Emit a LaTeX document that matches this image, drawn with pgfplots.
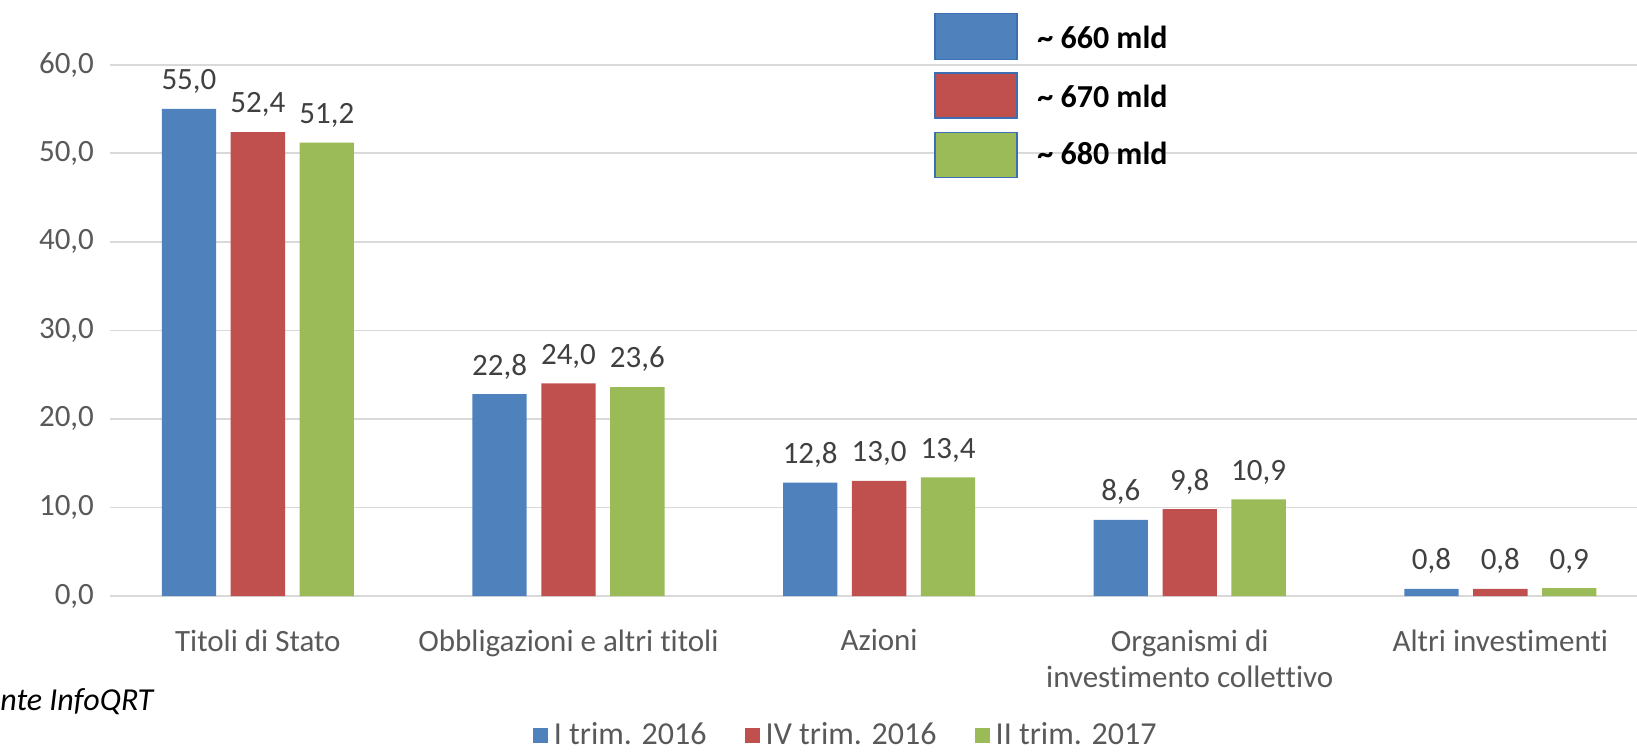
\documentclass[border=0pt]{standalone}
\usepackage{fontspec}
\setmainfont{Carlito}[Ligatures=CommonOff]
\usepackage{pgfplots}
\pgfplotsset{compat=1.18}
\definecolor{cblue}{HTML}{4F81BD}
\definecolor{cred}{HTML}{C0504D}
\definecolor{cgreen}{HTML}{9BBB59}
\definecolor{ticktext}{HTML}{595959}
\definecolor{labeltext}{HTML}{404040}
\definecolor{gridc}{HTML}{D9D9D9}
\definecolor{boxedge}{HTML}{3C6EB4}
\newcommand\lab{\fontsize{15.5}{18.3}\selectfont}
\newcommand\leg{\fontsize{16}{19}\selectfont}

\begin{document}
\begin{tikzpicture}
% page = 1637 x 752 px, 1 px = 0.5pt
\useasboundingbox (0,0) rectangle (818.5pt,376pt);
\begin{axis}[
  at={(55pt,78pt)}, anchor=south west,
  scale only axis,
  width=763.5pt, height=265.65pt,
  xmin=-0.476, xmax=4.44,
  ymin=0, ymax=60,
  ytick={0,10,20,30,40,50,60},
  xtick={0,1,2,3,4},
  xticklabels={Titoli di Stato, Obbligazioni e altri titoli, Azioni, Organismi di\\investimento collettivo, Altri investimenti},
  xticklabel style={font=\lab, color=ticktext, align=center, yshift=-9pt},
  yticklabel style={font=\lab, color=ticktext, xshift=-4.5pt},
  /pgf/number format/.cd, use comma, fixed, fixed zerofill, precision=1, assume math mode=true,
  /pgfplots/.cd,
  ymajorgrids, grid style={gridc, line width=0.8pt},
  axis line style={draw=none},
  tick style={draw=none},
  clip=false,
  ybar=7.3pt, bar width=27.15pt,
  nodes near coords,
  every node near coord/.append style={font=\lab, color=labeltext, yshift=4pt},
  legend columns=3,
  legend style={at={(0.483,-0.262)}, anchor=center, draw=none, fill=none,
    font=\leg, text=ticktext,
    /tikz/every even column/.append style={column sep=16pt},
    nodes={inner xsep=3pt}},
  legend image code/.code={\path[#1] (-2pt,-3.8pt) rectangle (5.6pt,3.8pt);},
]
\addplot[fill=cblue, draw=none] coordinates {(0,55.0) (1,22.8) (2,12.8) (3,8.6) (4,0.8)};
\addlegendentry{I trim. 2016}
\addplot[fill=cred, draw=none] coordinates {(0,52.4) (1,24.0) (2,13.0) (3,9.8) (4,0.8)};
\addlegendentry{IV trim. 2016}
\addplot[fill=cgreen, draw=none] coordinates {(0,51.2) (1,23.6) (2,13.4) (3,10.9) (4,0.9)};
\addlegendentry{II trim. 2017}
\end{axis}
% annotation boxes, in px from top-left
\begin{scope}[yshift=376pt, x=0.5pt, y=-0.5pt]
\filldraw[fill=cblue, draw=boxedge, line width=0.6pt] (935,13.6) rectangle (1017,59.5);
\filldraw[fill=cred, draw=boxedge, line width=0.6pt] (935,73) rectangle (1017,118);
\filldraw[fill=cgreen, draw=boxedge, line width=0.6pt] (935,132.6) rectangle (1017,177.5);
\node[anchor=west, inner sep=0, font=\leg\bfseries] at (1037,37.6) {\textasciitilde\ 660 mld};
\node[anchor=west, inner sep=0, font=\leg\bfseries] at (1037,96) {\textasciitilde\ 670 mld};
\node[anchor=west, inner sep=0, font=\leg\bfseries] at (1037,153.5) {\textasciitilde\ 680 mld};
\node[anchor=west, inner sep=0, font=\leg\itshape] at (0,702) {nte InfoQRT};
\end{scope}
\end{tikzpicture}
\end{document}
